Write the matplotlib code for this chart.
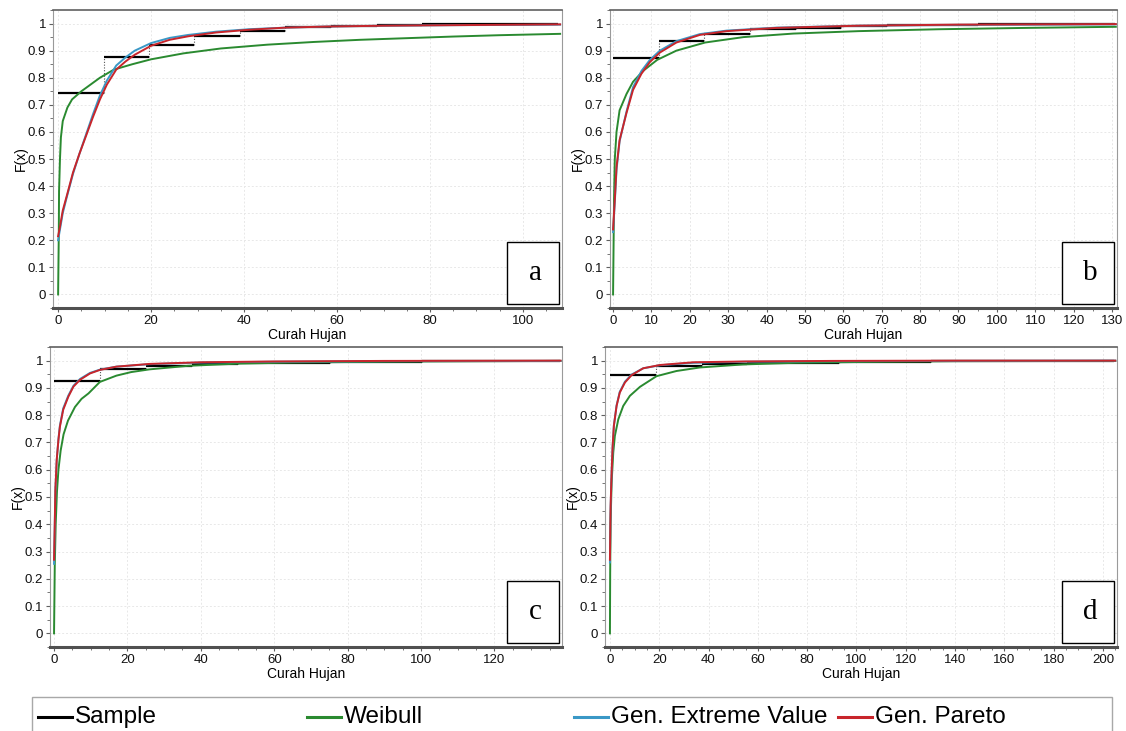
import matplotlib
matplotlib.use('Agg')
import matplotlib.pyplot as plt
from matplotlib import rcParams
from matplotlib.patches import Rectangle
from matplotlib.lines import Line2D
from matplotlib.ticker import MultipleLocator, FuncFormatter

# ======================
# style
# ======================
rcParams.update({
    'font.family': ['Liberation Sans', 'DejaVu Sans'],
    'font.size': 10,
    'xtick.labelsize': 9.5,
    'ytick.labelsize': 9.5,
    'axes.edgecolor': '#808080',
    'xtick.color': '#606060',
    'ytick.color': '#606060',
    'xtick.labelcolor': '#111111',
    'ytick.labelcolor': '#111111',
})

COLORS = {
    'sample': '#000000',
    'weibull': '#2a8a30',
    'gev': '#3a98c6',
    'gp': '#c8252b',
    'grid': '#e8e8e8',
}

W, H = 1126, 731

# ======================
# data
# ======================
# panel a
wb_a_x = [0, 0.15, 0.2, 0.4, 0.6, 1, 2, 3, 5, 7, 9, 12, 16, 20, 27, 35, 45, 55, 65, 75, 85, 95, 108]
wb_a_y = [0, 0.23, 0.38, 0.5, 0.58, 0.64, 0.69, 0.72, 0.75, 0.775, 0.80, 0.83, 0.85, 0.868, 0.89, 0.908,
          0.922, 0.932, 0.94, 0.946, 0.952, 0.957, 0.962]
gp_a_x = [0, 0.4, 1, 1.8, 3.2, 4.6, 6, 7.5, 9, 10.5, 12.5, 14.5, 16.5, 20, 24, 28, 34, 41, 49, 58, 70, 85, 100, 108]
gp_a_y = [0.215, 0.25, 0.31, 0.36, 0.45, 0.52, 0.585, 0.655, 0.72, 0.775, 0.83, 0.86, 0.885, 0.918, 0.94,
          0.953, 0.967, 0.977, 0.985, 0.989, 0.992, 0.994, 0.996, 0.997]
gev_a_y = [0.2, 0.24, 0.3, 0.355, 0.445, 0.52, 0.59, 0.665, 0.735, 0.79, 0.845, 0.875, 0.9, 0.928, 0.947,
           0.958, 0.97, 0.979, 0.985, 0.989, 0.992, 0.994, 0.995, 0.996]
smp_a_edges = [0, 9.8, 19.6, 29.3, 39.1, 48.9, 58.7, 68.5, 78.2, 88.0, 97.8, 107.6]
smp_a_y = [0.745, 0.878, 0.922, 0.953, 0.971, 0.986, 0.99, 0.995, 0.997, 0.998, 1.0]

# panel b
wb_b_x = [0, 0.25, 0.45, 0.9, 1.7, 3.5, 5.2, 7.8, 11.5, 16.5, 24, 34, 47, 64, 85, 108, 131]
wb_b_y = [0, 0.35, 0.5, 0.6, 0.68, 0.74, 0.785, 0.825, 0.866, 0.9, 0.93, 0.95, 0.963, 0.972, 0.979, 0.984, 0.988]
gp_b_x = [0, 0.45, 0.9, 1.7, 3.5, 5.2, 7.4, 9.6, 12.2, 16.5, 22.6, 29.6, 42.6, 64, 90, 131]
gp_b_y = [0.24, 0.35, 0.47, 0.57, 0.67, 0.755, 0.815, 0.858, 0.893, 0.93, 0.958, 0.972, 0.984, 0.992, 0.996, 0.998]
gev_b_y = [0.23, 0.34, 0.46, 0.565, 0.675, 0.765, 0.825, 0.866, 0.9, 0.935, 0.961, 0.974, 0.985, 0.992, 0.995, 0.997]
smp_b_edges = [0, 11.9, 23.8, 35.7, 47.6, 59.5, 71.4, 83.3, 95.2, 107.1, 119.0, 130.9]
smp_b_y = [0.874, 0.937, 0.963, 0.98, 0.985, 0.99, 0.993, 0.996, 0.997, 0.998, 1.0]

# panel c
wb_c_x = [0, 0.2, 0.45, 0.8, 1.2, 1.8, 2.6, 3.8, 5.7, 7.5, 9.4, 12.5, 17, 21, 26, 36.5, 50, 65, 80, 100, 138]
wb_c_y = [0, 0.25, 0.4, 0.52, 0.6, 0.67, 0.73, 0.78, 0.83, 0.86, 0.88, 0.922, 0.945, 0.958, 0.968, 0.981,
          0.989, 0.993, 0.995, 0.997, 0.999]
gp_c_x = [0, 0.18, 0.36, 0.73, 1.2, 1.6, 2.5, 3.9, 5.3, 7.1, 9.8, 12.5, 17, 26, 40, 60, 90, 138]
gp_c_y = [0.27, 0.39, 0.526, 0.636, 0.71, 0.758, 0.82, 0.868, 0.905, 0.93, 0.953, 0.966, 0.978, 0.988,
          0.994, 0.997, 0.999, 1.0]
gev_c_y = [0.255, 0.38, 0.52, 0.635, 0.712, 0.762, 0.825, 0.872, 0.908, 0.933, 0.955, 0.967, 0.978, 0.987,
           0.993, 0.996, 0.998, 0.999]
smp_c_edges = [0, 12.5, 25.1, 37.6, 50.1, 62.6, 75.2, 87.7, 100.2, 112.8, 125.3, 137.8]
smp_c_y = [0.926, 0.968, 0.982, 0.987, 0.99, 0.993, 0.995, 0.996, 0.997, 0.998, 1.0]

# panel d
wb_d_x = [0, 0.1, 0.27, 0.68, 1.35, 2, 3.4, 5.4, 8.1, 12.2, 18.9, 27, 36.5, 54, 75, 100, 140, 205]
wb_d_y = [0, 0.22, 0.405, 0.552, 0.663, 0.724, 0.785, 0.834, 0.871, 0.904, 0.943, 0.962, 0.975, 0.986,
          0.992, 0.995, 0.998, 0.999]
gp_d_x = [0, 0.27, 0.68, 1.1, 1.6, 2.7, 4, 6.1, 8.8, 13.5, 20.3, 33.8, 55, 90, 140, 205]
gp_d_y = [0.27, 0.466, 0.589, 0.687, 0.761, 0.834, 0.883, 0.92, 0.947, 0.972, 0.984, 0.994, 0.997, 0.999, 1.0, 1.0]
gev_d_y = [0.26, 0.46, 0.585, 0.685, 0.762, 0.836, 0.886, 0.923, 0.949, 0.972, 0.983, 0.992, 0.996, 0.998, 0.999, 1.0]
smp_d_edges = [0, 18.6, 37.2, 55.8, 74.4, 93.0, 111.6, 130.2, 148.8, 167.4, 186.0, 204.6]
smp_d_y = [0.947, 0.981, 0.988, 0.991, 0.993, 0.995, 0.996, 0.997, 0.998, 0.999, 1.0]

panel_names = ['a', 'b', 'c', 'd']
legend_labels = ['Sample', 'Weibull', 'Gen. Extreme Value', 'Gen. Pareto']


def fig_box(l, t, r, b):
    return [l / W, 1 - b / H, (r - l) / W, (b - t) / H]


def draw_panel(ax, smp_edges, smp_y, wb_x, wb_y, gp_x, gp_y, gev_y, xlim, xmajor, xminor, letter):
    # sample (binned step function)
    for i, v in enumerate(smp_y):
        ax.plot([smp_edges[i], smp_edges[i + 1]], [v, v], color=COLORS['sample'], lw=1.6,
                solid_capstyle='butt', zorder=3)
        if i > 0:
            ax.plot([smp_edges[i], smp_edges[i]], [smp_y[i - 1], v], color='#555555', lw=0.8,
                    ls=(0, (1, 1.5)), zorder=2)
    ax.plot(wb_x, wb_y, color=COLORS['weibull'], lw=1.4, zorder=4)
    ax.plot(gp_x, gev_y, color=COLORS['gev'], lw=1.4, zorder=5)
    ax.plot(gp_x, gp_y, color=COLORS['gp'], lw=1.4, zorder=6)

    ax.set_xlim(*xlim)
    ax.set_ylim(-0.05, 1.05)
    ax.xaxis.set_major_locator(MultipleLocator(xmajor))
    ax.xaxis.set_minor_locator(MultipleLocator(xminor))
    ax.yaxis.set_major_locator(MultipleLocator(0.1))
    ax.yaxis.set_minor_locator(MultipleLocator(0.05))
    ax.yaxis.set_major_formatter(FuncFormatter(lambda v, p: f"{v:.1f}".rstrip('0').rstrip('.') if v > 1e-9 else "0"))
    ax.tick_params(which='major', length=3, width=0.8, pad=2)
    ax.tick_params(which='minor', length=2, width=0.6)
    ax.grid(True, which='major', color=COLORS['grid'], lw=0.7, ls=(0, (2, 2)))
    ax.set_axisbelow(True)

    for s in ['left', 'right']:
        ax.spines[s].set_color('#9a9a9a')
        ax.spines[s].set_linewidth(0.8)
    ax.spines['top'].set_color('#606060')
    ax.spines['top'].set_linewidth(1.2)
    ax.spines['bottom'].set_color('#505050')
    ax.spines['bottom'].set_linewidth(2.2)

    ax.set_xlabel('Curah Hujan', fontsize=10, labelpad=1)
    ax.set_ylabel('F(x)', fontsize=10, labelpad=0)

    # letter box in the lower right corner
    ax.text(0.948, 0.118, letter, transform=ax.transAxes, ha='center', va='center',
            fontsize=21, family=['Liberation Serif', 'DejaVu Serif'], zorder=11)
    ax.add_patch(Rectangle((1 - 55 / ax_w, 4 / ax_h), 52 / ax_w, 62 / ax_h, transform=ax.transAxes,
                           fc='white', ec='black', lw=1.0, zorder=10))


fig = plt.figure(figsize=(W / 100, H / 100), dpi=100)
fig.patch.set_facecolor('white')

boxes = [(53, 10, 562, 308), (610, 10, 1117, 308), (50, 347, 562, 647), (605, 347, 1117, 647)]

panels = [
    (smp_a_edges, smp_a_y, wb_a_x, wb_a_y, gp_a_x, gp_a_y, gev_a_y, (-1.1, 108.4), 20, 5),
    (smp_b_edges, smp_b_y, wb_b_x, wb_b_y, gp_b_x, gp_b_y, gev_b_y, (-0.8, 131.3), 10, 5),
    (smp_c_edges, smp_c_y, wb_c_x, wb_c_y, gp_c_x, gp_c_y, gev_c_y, (-1.1, 138.4), 20, 5),
    (smp_d_edges, smp_d_y, wb_d_x, wb_d_y, gp_d_x, gp_d_y, gev_d_y, (-2.0, 205.7), 20, 5),
]

for box, args, letter in zip(boxes, panels, panel_names):
    ax = fig.add_axes(fig_box(*box))
    ax_w = box[2] - box[0]
    ax_h = box[3] - box[1]
    draw_panel(ax, *args, letter)

# ======================
# legend (drawn by hand, one long box at the bottom)
# ======================
fig.add_artist(Rectangle((32 / W, 1 - 740 / H), (1112 - 32) / W, (740 - 697) / H,
                         transform=fig.transFigure, fc='white', ec='#a8a8a8', lw=1.0))
leg_x = [38, 307, 574, 838]
leg_colors = [COLORS['sample'], COLORS['weibull'], COLORS['gev'], COLORS['gp']]
leg_y = 1 - 717 / H
for lx, lab, col in zip(leg_x, legend_labels, leg_colors):
    fig.add_artist(Line2D([lx / W, (lx + 34) / W], [leg_y, leg_y], transform=fig.transFigure,
                          color=col, lw=2.2))
    fig.text((lx + 37) / W, leg_y, lab, ha='left', va='center', fontsize=17.5)

fig.savefig('out.png', dpi=100, facecolor='white')
